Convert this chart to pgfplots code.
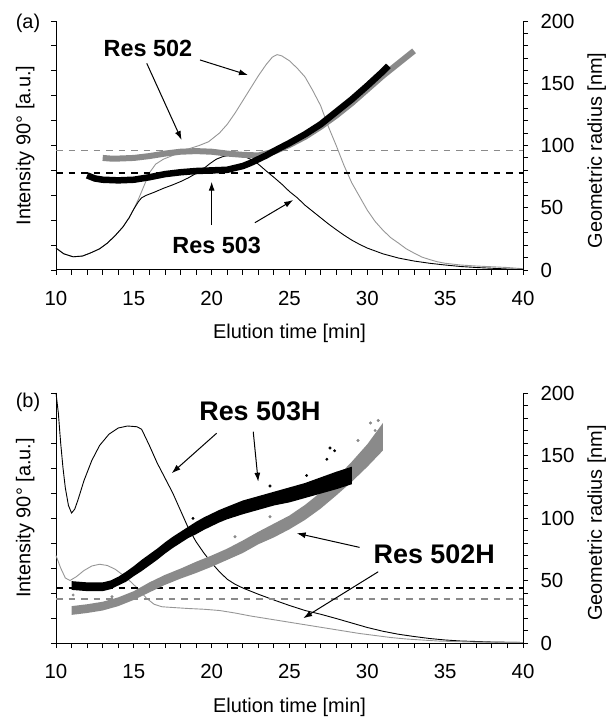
\documentclass[border=0pt]{standalone}
\usepackage{pgfplots}
\pgfplotsset{compat=1.18}
\usepackage{fontspec}
\setmainfont{Liberation Sans}
\usetikzlibrary{arrows.meta}
\definecolor{g1}{RGB}{138,138,138}
\definecolor{g2}{RGB}{150,150,150}
\tikzset{arr/.style={-{Latex[length=9bp,width=6bp]}, line width=1bp, black}}
\pgfplotsset{
  base/.style={scale only axis, width=467bp, xmin=10, xmax=40, clip=false,
    tick align=outside, major tick length=5bp, minor tick length=5bp,
    tick style={black, line width=0.9bp},
    axis line style={-, line width=1bp, black},
    /pgf/number format/assume math mode=true,
    ticklabel style={font=\fontsize{20.5}{23}\selectfont},
    label style={font=\fontsize{20}{23}\selectfont}},
  leftax/.style={base, ymin=0, ymax=10, axis x line*=bottom, axis y line*=left,
    xtick={10,15,...,40}, minor x tick num=4, ytick={0,...,10}, yticklabels={},
    xticklabel style={yshift=-13bp},
    xlabel={Elution time [min]}, ylabel={Intensity 90° [a.u.]},
    ylabel style={at={(axis description cs:-0.066,0.5)}, anchor=center}},
  rightax/.style={base, ymin=0, ymax=200, axis x line=none, axis y line*=right,
    ytick={0,50,...,200}, minor y tick num=4,
    ylabel={Geometric radius [nm]},
    ylabel style={at={(axis description cs:1.158,0.48)}, anchor=center},
    yticklabel style={anchor=west, xshift=9bp}},
}
\begin{document}
\begin{tikzpicture}
\useasboundingbox (0,0) rectangle (610bp,717bp);
\node[font=\fontsize{20}{23}\selectfont] at (28bp,694bp) {(a)};
\node[font=\fontsize{20}{23}\selectfont] at (28bp,315bp) {(b)};
% ---------------- panel a ----------------
\begin{axis}[leftax, at={(56bp,447bp)}, anchor=south west, height=249bp,
  xlabel style={at={(axis description cs:0.5,-0.255)}, anchor=center}]
\addplot[g2, line width=0.9bp] coordinates {(10,0.88) (10.5,0.65) (11.1,0.53) (11.7,0.56) (12.2,0.68) (12.8,0.85) (13.3,1.08) (13.8,1.38) (14.3,1.73) (14.7,2.1) (15.0,2.45) (15.3,2.85) (15.6,3.3) (16.0,3.9) (16.4,4.25) (16.9,4.45) (17.5,4.6) (18.0,4.74) (18.6,4.88) (19.2,5.0) (19.8,5.15) (20.5,5.5) (21.0,5.85) (21.5,6.3) (22.0,6.8) (22.5,7.3) (23.0,7.8) (23.5,8.25) (23.9,8.55) (24.2,8.65) (24.5,8.6) (25.0,8.4) (25.5,8.1) (26.0,7.75) (26.5,7.2) (27.0,6.6) (27.5,5.75) (28.0,5.0) (28.5,4.2) (29.0,3.5) (29.5,2.95) (30.0,2.4) (30.5,1.95) (31.0,1.6) (31.5,1.3) (32.0,1.08) (32.5,0.85) (33.0,0.68) (33.5,0.52) (34.0,0.42) (34.5,0.33) (35,0.27) (36,0.2) (37,0.16) (38,0.13) (39,0.1) (40,0.05)};
\addplot[black, line width=0.9bp] coordinates {(10,0.88) (10.5,0.65) (11.1,0.53) (11.7,0.56) (12.2,0.68) (12.8,0.85) (13.3,1.08) (13.8,1.38) (14.3,1.73) (14.7,2.1) (15.0,2.45) (15.3,2.75) (15.5,2.9) (15.8,3.0) (16.3,3.12) (16.9,3.28) (17.5,3.42) (18.0,3.55) (18.5,3.7) (19.0,3.88) (19.5,4.08) (19.9,4.28) (20.3,4.45) (20.7,4.55) (21.2,4.62) (21.6,4.63) (22.0,4.58) (22.5,4.45) (23.0,4.25) (23.5,3.98) (24.0,3.72) (24.5,3.45) (25.0,3.15) (25.5,2.9) (26.0,2.6) (26.5,2.35) (27.0,2.1) (27.5,1.85) (28.0,1.62) (28.5,1.4) (29.0,1.2) (29.5,1.03) (30,0.88) (31,0.65) (32,0.48) (33,0.36) (34,0.27) (35,0.2) (36,0.14) (37,0.1) (38,0.07) (39,0.04) (40,0.02)};
\end{axis}
\begin{axis}[rightax, at={(56bp,447bp)}, anchor=south west, height=249bp]
\addplot[g1, line width=1.8bp, dash pattern=on 6.5bp off 6bp] coordinates {(10,96) (40,96)};
\addplot[black, line width=1.8bp, dash pattern=on 6.5bp off 6bp] coordinates {(10,78) (40,78)};
\addplot[g1, line width=6bp, line join=round] coordinates {(13,90) (13.5,89.5) (14,89.5) (15,90) (16,91.5) (17,93.5) (18,95) (19,95.5) (20,95) (21,93.5) (22,92.5) (23,92) (24,95) (25,100.5) (26,107) (27,115) (28,124) (29,134) (30,145) (31,156) (31.5,161) (32,166) (32.5,171) (33,176)};
\addplot[black, line width=6.5bp, line join=round] coordinates {(12,76) (12.5,73.5) (13,72.5) (14,72) (15,72.5) (16,74.5) (17,77) (18,78.5) (19,79.5) (20,80) (21,80.5) (22,83.5) (22.5,86) (23,89) (23.5,92) (24,95.5) (25,102) (26,109) (27,117) (28,127) (29,137) (30,148) (31,159.5) (31.35,164)};
\node[font=\bfseries\fontsize{23.5}{26}\selectfont] at (axis cs:15.91,178.3) {Res 502};
\draw[arr] (axis cs:15.83,166) -- (axis cs:18.07,104.4);
\draw[arr] (axis cs:19.25,168.7) -- (axis cs:22.33,156.6);
\node[font=\bfseries\fontsize{23.5}{26}\selectfont] at (axis cs:20.32,20.1) {Res 503};
\draw[arr] (axis cs:20.0,36.1) -- (axis cs:20.0,70.9);
\draw[arr] (axis cs:22.78,38) -- (axis cs:25.24,56.2);
\end{axis}
% ---------------- panel b ----------------
\begin{axis}[leftax, at={(56bp,74bp)}, anchor=south west, height=250bp,
  xlabel style={at={(axis description cs:0.5,-0.258)}, anchor=center}]
\addplot[black, line width=0.9bp] coordinates {(10,10) (10.15,9.2) (10.3,8.0) (10.45,7.0) (10.6,6.2) (10.8,5.5) (11.0,5.2) (11.2,5.35) (11.4,5.7) (11.8,6.5) (12.3,7.3) (12.8,7.9) (13.4,8.35) (14.0,8.6) (14.6,8.68) (15.2,8.65) (15.5,8.55) (16.0,7.9) (16.5,7.2) (17.0,6.6) (17.5,6.0) (18.0,5.3) (18.5,4.6) (19.0,4.05) (19.5,3.6) (20.0,3.2) (20.5,2.85) (21.0,2.55) (21.5,2.35) (22.0,2.2) (23.0,1.95) (24.0,1.72) (25.0,1.5) (26.0,1.3) (27.0,1.15) (28.0,0.98) (29.0,0.8) (30.0,0.62) (31.0,0.47) (32.0,0.35) (33.0,0.26) (34.0,0.18) (35.0,0.12) (36.0,0.08) (37,0.06) (38,0.04) (39,0.03) (40,0.02)};
\addplot[g2, line width=0.9bp] coordinates {(10,3.5) (10.3,3.0) (10.6,2.6) (10.9,2.5) (11.3,2.65) (11.8,2.9) (12.3,3.08) (12.8,3.15) (13.3,3.1) (13.8,2.95) (14.3,2.72) (14.8,2.45) (15.3,2.15) (15.8,1.8) (16.3,1.55) (16.8,1.45) (17.5,1.42) (18.5,1.38) (19.5,1.35) (20.5,1.3) (21.5,1.2) (22.5,1.08) (23.5,0.98) (24.5,0.88) (25.5,0.78) (26.5,0.68) (27.5,0.58) (28.5,0.48) (29.5,0.38) (30.5,0.3) (31.5,0.22) (32.5,0.16) (33.5,0.12) (34.5,0.08) (35.5,0.06) (36.5,0.04) (38,0.03) (40,0.02)};
\end{axis}
\begin{axis}[rightax, at={(56bp,74bp)}, anchor=south west, height=250bp]
\addplot[black, line width=1.8bp, dash pattern=on 6.5bp off 6bp] coordinates {(10,44) (40,44)};
\addplot[g1, line width=1.8bp, dash pattern=on 6.5bp off 6bp] coordinates {(10,35) (40,35)};
\addplot[fill=g1, draw=none] coordinates {(11,29.5) (12,31) (13,33) (14,36.5) (15,41.5) (16,48.5) (17,54.5) (18,59.5) (19,65) (20,70) (21,75.5) (22,82) (23,89) (24,95.5) (25,102) (26,110.5) (27,120.5) (28,132) (29,145) (30,159) (31,176) (31,154) (30,141) (29,129) (28,118) (27,107.5) (26,98.5) (25,91) (24,84.5) (23,79) (22,72) (21,66.5) (20,61) (19,56) (18,51.5) (17,46.5) (16,40.5) (15,34.5) (14,29.5) (13,26) (12,24) (11,22.5)} -- cycle;
\addplot[only marks, mark=*, mark size=1.3bp, g1] coordinates {(21.5,85) (23.75,101) (29.4,162) (30.2,176) (30.7,178) (30.5,170) (11.1,38.4) (13.6,37) (14.6,36)};
\addplot[fill=black, draw=none] coordinates {(11,49.5) (11.5,49) (12,48.5) (13,48.5) (13.5,50) (14,53) (14.5,57) (15,61.5) (15.5,66.5) (16,71) (16.5,75.5) (17,80.5) (17.5,85) (18,89) (18.5,93) (19,97) (19.5,100.5) (20,103.5) (20.5,106.5) (21,109) (22,114) (23,117.5) (24,121) (25,124.5) (26,128) (27,132.5) (28,137) (29,141) (29,127) (28,123) (27,119.5) (26,116) (25,112.5) (24,110) (23,106.5) (22,103) (21,99) (20.5,96.5) (20,93.5) (19.5,90.5) (19,87) (18.5,84) (18,80) (17.5,76) (17,71.5) (16.5,66.5) (16,62) (15.5,57.5) (15,53.5) (14.5,49) (14,46) (13.5,43) (13,41.5) (12,41.5) (11.5,42) (11,42.5)} -- cycle;
\addplot[only marks, mark=*, mark size=1.3bp, black] coordinates {(18.8,99.7) (23.75,125.6) (26.1,134) (27.4,147) (27.9,153.8) (27.6,156)};
\node[font=\bfseries\fontsize{27}{30}\selectfont] at (axis cs:23.1,185) {Res 503H};
\draw[arr] (axis cs:20.32,167.8) -- (axis cs:17.43,135.8);
\draw[arr] (axis cs:22.67,169) -- (axis cs:22.99,129);
\node[font=\bfseries\fontsize{27}{30}\selectfont] at (axis cs:34.3,71.2) {Res 502H};
\draw[arr] (axis cs:29.5,76.5) -- (axis cs:25.46,87.8);
\draw[arr] (axis cs:30.7,57) -- (axis cs:25.88,19.8);
\end{axis}
\end{tikzpicture}
\end{document}
